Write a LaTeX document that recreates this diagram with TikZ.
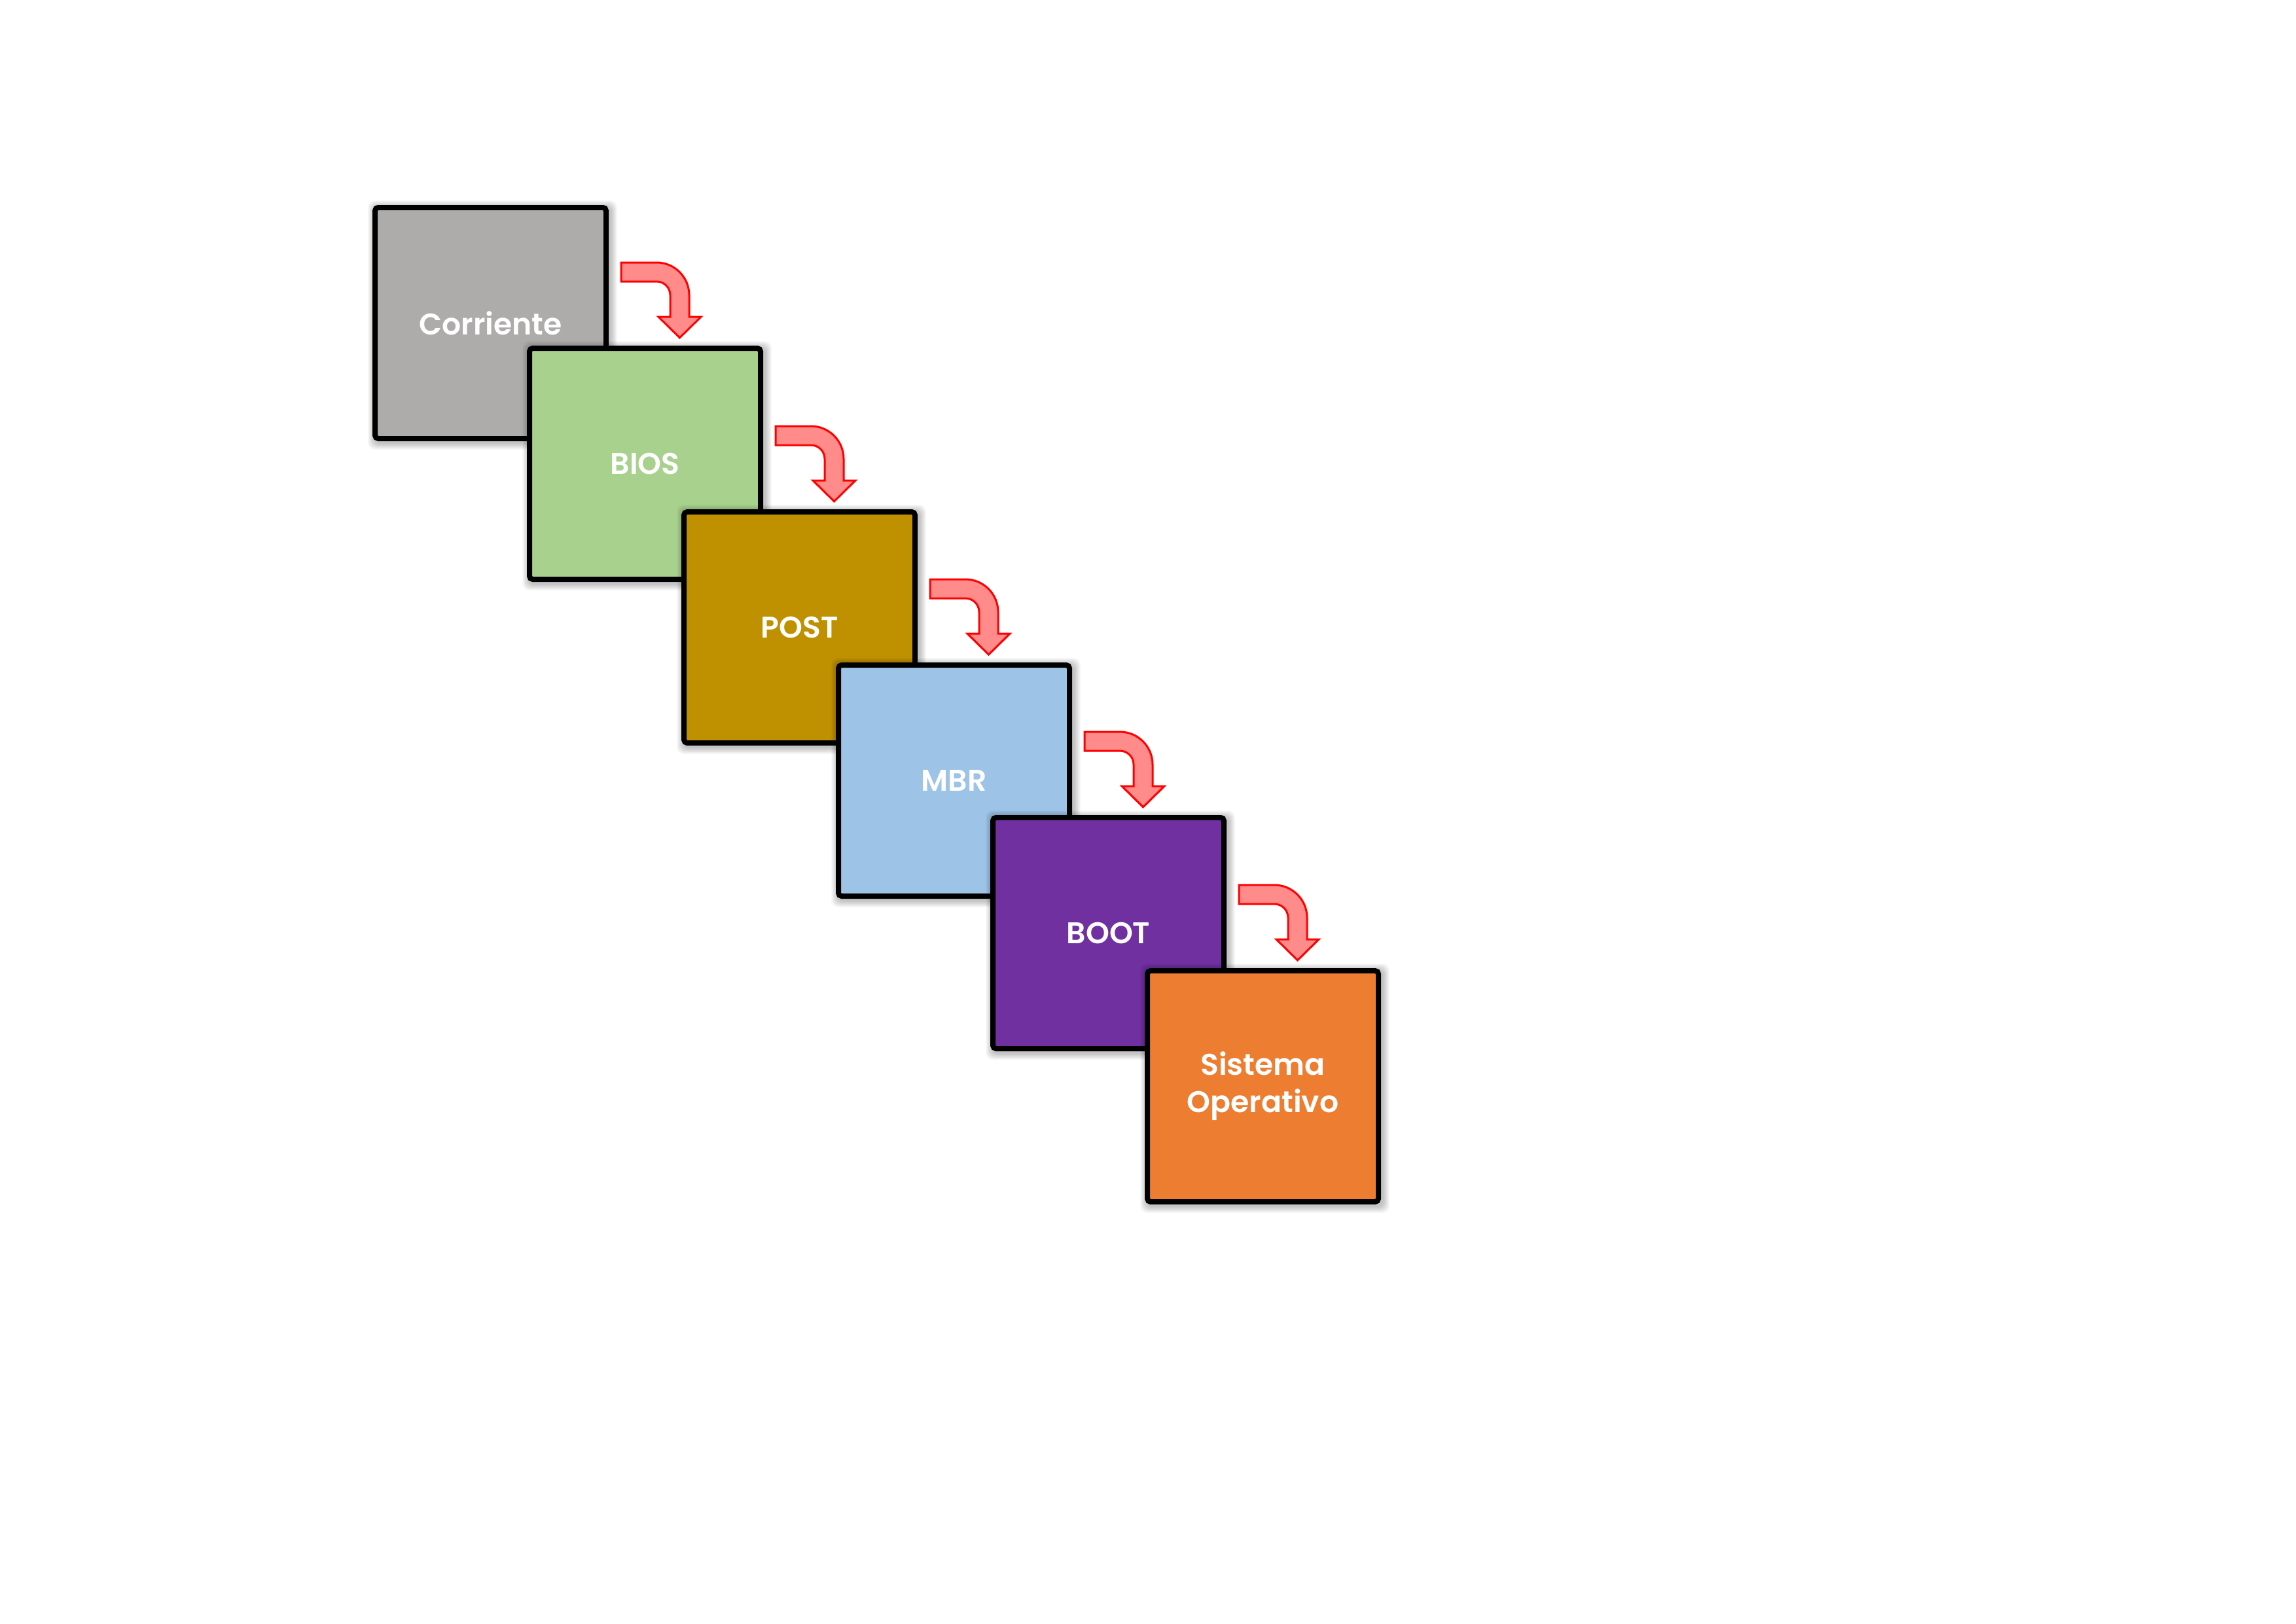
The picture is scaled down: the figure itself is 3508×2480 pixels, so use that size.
\documentclass[tikz,border=0pt]{standalone}
\usepackage{fontspec}
\setmainfont{Poppins}[BoldFont={Poppins SemiBold}]
\definecolor{cgray}{HTML}{AEABAB}
\definecolor{cgreen}{HTML}{A9D18E}
\definecolor{cgold}{HTML}{BF9000}
\definecolor{cblue}{HTML}{9DC3E6}
\definecolor{cpurple}{HTML}{7030A0}
\definecolor{corange}{HTML}{ED7D31}
\definecolor{arrred}{HTML}{FF0000}
\definecolor{arrfill}{HTML}{FF8B8B}
\tikzset{
  stagebox/.style={draw=black, line width=0.8mm, minimum width=35.3mm, minimum height=35.3mm,
    inner sep=0pt, outer sep=0pt, rounded corners=0.5mm, text=white,
    font=\fontsize{13}{16.2}\selectfont\bfseries, align=center},
  blockarrow/.style={draw=arrred, fill=arrfill, line width=0.3mm, line join=miter},
  softshadow/.style={black, opacity=0.025, rounded corners=1mm}
}
\newcommand\stage[5]{%
  \foreach \i in {1,...,10}{\fill[softshadow] (#2+3-\i,-#3-3+\i) rectangle (#2+364+\i,-#3-364-\i);}
  \node[stagebox, fill=#4] (#1) at (#2+180.5,-#3-180.5) {#5};
}
\newcommand\flowarrow[1]{%
  \begin{scope}[shift={(#1.north west)}]
    \draw[blockarrow] (140,131) -- (194,131) arc[start angle=90,end angle=0,radius=50]
      -- (244,48) -- (262,48) -- (229.5,16) -- (197,48) -- (215,48) -- (215,81)
      arc[start angle=0,end angle=90,radius=21] -- (140,102) -- cycle;
  \end{scope}}
\begin{document}
\begin{tikzpicture}[x=0.1mm, y=0.1mm]
  \useasboundingbox[fill=white] (0,0) rectangle (3508,-2480);
  \stage{corr}{569}{313}{cgray}{Corriente}
  \stage{bios}{805}{528}{cgreen}{BIOS}
  \stage{post}{1041}{778}{cgold}{POST}
  \stage{mbr}{1277}{1012}{cblue}{MBR}
  \stage{boot}{1513}{1245}{cpurple}{BOOT}
  \stage{so}{1749}{1479}{corange}{Sistema\\Operativo}
  \flowarrow{bios}
  \flowarrow{post}
  \flowarrow{mbr}
  \flowarrow{boot}
  \flowarrow{so}
\end{tikzpicture}
\end{document}
